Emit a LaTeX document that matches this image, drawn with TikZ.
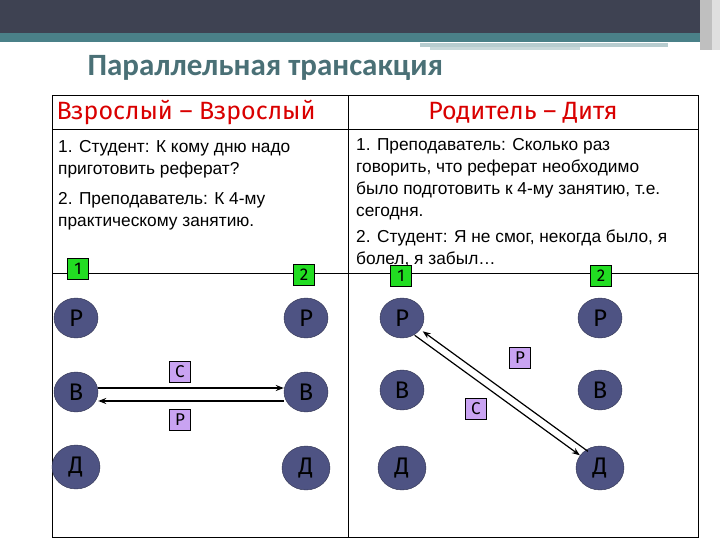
\documentclass[tikz,border=0pt]{standalone}
\usepackage{fontspec}
\setmainfont{Liberation Sans}
\newfontfamily\titlefont{Carlito}
\newfontfamily\headfont{Fira Sans}
\usetikzlibrary{arrows.meta,shapes.geometric}
\definecolor{band}{HTML}{3E4252}
\definecolor{tealc}{HTML}{4A8088}
\definecolor{titlec}{HTML}{4A7076}
\definecolor{circ}{HTML}{4E5383}
\definecolor{lil}{HTML}{C9A3F2}
\definecolor{grn}{HTML}{22DD22}
\tikzset{
 ego/.style={ellipse,draw=circ!60!black,fill=circ,minimum width=44pt,minimum height=40pt,inner sep=0pt,font=\headfont\fontsize{24}{24}\selectfont},
 egoD/.style={ego,minimum width=48pt,minimum height=44pt},
 lbl/.style={draw=black,fill=lil,minimum size=21pt,inner sep=0pt,font=\headfont\fontsize{17}{17}\selectfont},
 num/.style={draw=black,fill=grn,minimum width=21pt,minimum height=21pt,inner sep=0pt,font=\headfont\fontsize{17}{17}\selectfont},
 txt/.style={anchor=north west,align=left,font=\fontsize{17.3}{22}\selectfont,inner sep=0pt},
 head/.style={text=red!85!black,font=\headfont\fontsize{25}{25}\selectfont},
 arr/.style={-{Stealth[length=8pt,width=6pt]},line width=1.2pt},
 tbl/.style={line width=1pt}
}
\begin{document}
\begin{tikzpicture}[x=1pt,y=-1pt]
\useasboundingbox (0,0) rectangle (720,540);
% banner
\fill[band] (0,0) rectangle (700,33);
\fill[tealc] (0,33) rectangle (700,42);
\fill[tealc!40] (420,43) rectangle (668,47);
\fill[tealc!30] (430,47) rectangle (580,50);
\fill[gray!50] (700,0) rectangle (712,50);
\fill[gray!25] (712,0) rectangle (720,50);
\node[anchor=west,text=titlec,font=\titlefont\bfseries\fontsize{31}{31}\selectfont] (title) at (84,68) {Параллельная трансакция};
% table
\draw[tbl] (52,96) rectangle (698,537);
\draw[tbl] (52,130) -- (698,130);
\draw[tbl] (348,96) -- (348,537);
\draw[tbl] (52,273) -- (698,273);
\node[head] (h1) at (186,113) {Взрослый – Взрослый};
\node[head] (h2) at (523,113) {Родитель – Дитя};
\node[txt] (t1) at (58,140) {1. Студент: К кому дню надо\\приготовить реферат?\\[8pt]2. Преподаватель: К 4-му\\практическому занятию.};
\node[txt] (t2) at (356,138) {1. Преподаватель: Сколько раз\\говорить, что реферат необходимо\\было подготовить к 4-му занятию, т.е.\\сегодня.\\[4pt]2. Студент: Я не смог, некогда было, я\\болел, я забыл…};
% left panel
\node[num] (n1) at (78,269) {1};
\node[num] (n2) at (304,275) {2};
\node[ego] (p1) at (76,318) {Р};
\node[ego] (b1) at (76,392) {В};
\node[egoD] (d1) at (76,467) {Д};
\node[ego] (p2) at (306,318) {Р};
\node[ego] (b2) at (306,392) {В};
\node[egoD] (d2) at (306,468) {Д};
\node[lbl] (c1) at (180,372) {С};
\node[lbl] (r1) at (180,420) {Р};
\draw[arr,line width=1.4pt] ([yshift=4pt]b1.east) -- ([yshift=4pt]b2.west);
\draw[arr,line width=2.6pt] ([yshift=-9pt]b2.west) -- ([yshift=-9pt]b1.east);
% right panel
\node[num] (n3) at (401,276) {1};
\node[num] (n4) at (601,276) {2};
\node[ego] (p3) at (402,318) {Р};
\node[ego] (b3) at (402,390) {В};
\node[egoD] (d3) at (402,468) {Д};
\node[ego] (p4) at (600,318) {Р};
\node[ego] (b4) at (600,390) {В};
\node[egoD] (d4) at (600,468) {Д};
\node[lbl] (r2) at (520,358) {Р};
\node[lbl] (c2) at (476,409) {С};
\coordinate (a1) at ([shift={(3,-3)}]p3.south east);
\coordinate (a2) at ([shift={(3,-3)}]d4.north west);
\draw[arr] ([shift={(2,2)}]a2) -- ([shift={(2,2)}]a1);
\draw[arr] ([shift={(-6,6)}]a1) -- ([shift={(-6,6)}]a2);
\end{tikzpicture}
\end{document}
